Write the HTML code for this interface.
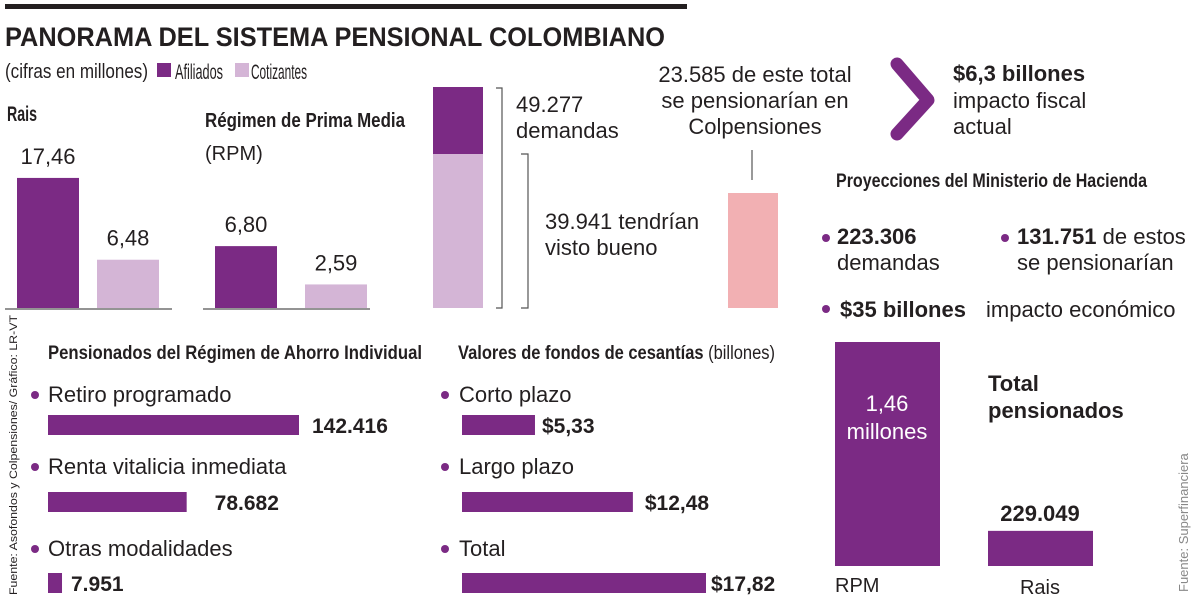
<!DOCTYPE html>
<html><head><meta charset="utf-8"><style>
html,body{margin:0;padding:0;background:#fff;}
svg{display:block;}
text{font-family:"Liberation Sans",sans-serif;fill:#231f20;}
.b{font-weight:bold;}
</style></head><body>
<svg id="s" width="1200" height="603" viewBox="0 0 1200 603">
<rect x="5" y="4" width="682" height="5" fill="#231f20"/>
<text x="5" y="46" class="b" font-size="27" textLength="660" lengthAdjust="spacingAndGlyphs">PANORAMA DEL SISTEMA PENSIONAL COLOMBIANO</text>
<text x="5" y="78" font-size="20" textLength="143" lengthAdjust="spacingAndGlyphs">(cifras en millones)</text>
<rect x="157" y="63" width="14" height="14" fill="#7b2a84"/>
<text x="175" y="79" font-size="21" textLength="48" lengthAdjust="spacingAndGlyphs">Afiliados</text>
<rect x="235" y="63" width="14" height="14" fill="#d4b5d6"/>
<text x="251" y="79" font-size="21" textLength="56" lengthAdjust="spacingAndGlyphs">Cotizantes</text>

<text x="7" y="121" class="b" font-size="21" textLength="30" lengthAdjust="spacingAndGlyphs">Rais</text>
<text x="205" y="127" class="b" font-size="20" textLength="200" lengthAdjust="spacingAndGlyphs">Régimen de Prima Media</text>
<text x="205" y="160" font-size="20">(RPM)</text>
<g id="cols"></g>

<rect x="433" y="87" width="50" height="67" fill="#7b2a84"/>
<rect x="433" y="154" width="50" height="154" fill="#d4b5d6"/>
<path d="M496 88H502V308H496" fill="none" stroke="#555" stroke-width="1.2"/>
<path d="M521 154H528V308H521" fill="none" stroke="#555" stroke-width="1.2"/>
<text x="516" y="112" font-size="22">49.277</text>
<text x="516" y="138" font-size="22">demandas</text>
<text x="545" y="229" font-size="22">39.941 tendrían</text>
<text x="545" y="255" font-size="22">visto bueno</text>

<text x="755" y="82" font-size="22" text-anchor="middle">23.585 de este total</text>
<text x="755" y="108" font-size="22" text-anchor="middle">se pensionarían en</text>
<text x="755" y="134" font-size="22" text-anchor="middle">Colpensiones</text>
<line x1="752" y1="150" x2="752" y2="180" stroke="#555" stroke-width="1.2"/>
<rect x="728" y="193" width="50" height="115" fill="#f2b0b3"/>

<path d="M897 64L928 100L897 134" fill="none" stroke="#7b2a84" stroke-width="13" stroke-linecap="round" stroke-linejoin="round"/>
<text x="953" y="81" class="b" font-size="22">$6,3 billones</text>
<text x="953" y="108" font-size="22">impacto fiscal</text>
<text x="953" y="134" font-size="22">actual</text>

<text x="836" y="187" class="b" font-size="19" textLength="311" lengthAdjust="spacingAndGlyphs">Proyecciones del Ministerio de Hacienda</text>
<circle cx="826" cy="238" r="4" fill="#7b2a84"/>
<text x="837" y="244" class="b" font-size="22">223.306</text>
<text x="837" y="270" font-size="22">demandas</text>
<circle cx="1005" cy="238" r="4" fill="#7b2a84"/>
<text x="1017" y="244" font-size="22"><tspan class="b">131.751</tspan> de estos</text>
<text x="1017" y="270" font-size="22">se pensionarían</text>
<circle cx="826" cy="309" r="4" fill="#7b2a84"/>
<text x="840" y="317" class="b" font-size="22">$35 billones</text>
<text x="986" y="317" font-size="22">impacto económico</text>

<g id="tot"></g>
<text x="988" y="391" class="b" font-size="22">Total</text>
<text x="988" y="418" class="b" font-size="22">pensionados</text>
<text x="887" y="411" font-size="22" text-anchor="middle" style="fill:#fff">1,46</text>
<text x="887" y="439" font-size="22" text-anchor="middle" style="fill:#fff">millones</text>
<text x="835" y="592" font-size="20">RPM</text>
<text x="1040" y="594" font-size="20" text-anchor="middle">Rais</text>
<text transform="translate(1188,592) rotate(-90)" font-size="13" style="fill:#888">Fuente: Superfinanciera</text>
<text transform="translate(17,595) rotate(-90)" font-size="11" textLength="280" lengthAdjust="spacingAndGlyphs">Fuente: Asofondos y Colpensiones/ Gráfico: LR-VT</text>

<text x="48" y="359" class="b" font-size="19" textLength="374" lengthAdjust="spacingAndGlyphs">Pensionados del Régimen de Ahorro Individual</text>
<text x="458" y="359" font-size="19" textLength="317" lengthAdjust="spacingAndGlyphs"><tspan class="b">Valores de fondos de cesantías</tspan> (billones)</text>
<g id="hb"></g>
</svg>
<script>
const NS='http://www.w3.org/2000/svg';
function mk(tag,attrs,parent){const e=document.createElementNS(NS,tag);for(const k in attrs)e.setAttribute(k,attrs[k]);parent.appendChild(e);return e;}
const colGroups=['Rais','RPM'];
const afiliados=[17.46,6.80];
const cotizantes=[6.48,2.59];
const colLabels=[['17,46','6,48'],['6,80','2,59']];
const cols=document.getElementById('cols');
const gx=[17,215], gScale=[7.45,9.1], base=308;
colGroups.forEach((g,i)=>{
  const vals=[afiliados[i],cotizantes[i]];
  const ax=mk('line',{x1:gx[i]-12,x2:gx[i]+155,y1:base+1,y2:base+1,stroke:'#555','stroke-width':1.2},cols);
  
  
  vals.forEach((v,j)=>{
    const h=v*gScale[i], x=gx[i]+j*(i?90:80);
    const r=mk('rect',{x:x,y:base-h,width:62,height:h,fill:j?'#d4b5d6':'#7b2a84'},cols);
    
    
    const t=mk('text',{x:x+31,y:base-h-14,'font-size':22,'text-anchor':'middle'},cols);
    t.textContent=colLabels[i][j];
    
    
  });
});
const totCats=['RPM','Rais'];
const totVals=[1460000,229049];
const totLabels=['','229.049'];
const tot=document.getElementById('tot');
totCats.forEach((c,i)=>{
  const h=Math.max(totVals[i]/1460000*224,17);
  const r=mk('rect',{x:835+i*153,y:566-h,width:105,height:h,fill:'#7b2a84'},tot);
  
  
  if(totLabels[i]){
    const t=mk('text',{x:887+i*153,y:566-h-10,'font-size':22,'text-anchor':'middle','class':'b'},tot);
    t.textContent=totLabels[i];
    
    
  }
});
const raiCats=['Retiro programado','Renta vitalicia inmediata','Otras modalidades'];
const raiVals=[142416,78682,7951];
const raiLabels=['142.416','78.682','7.951'];
const cesCats=['Corto plazo','Largo plazo','Total'];
const cesVals=[5.33,12.48,17.82];
const cesLabels=['$5,33','$12,48','$17,82'];
const hb=document.getElementById('hb');
const catY=[402,474,556], barY=[415,492,573];
function hbars(cats,vals,labels,x0,dotX,scale,lblOff,name){
  cats.forEach((c,i)=>{
    const d=mk('circle',{cx:dotX,cy:catY[i]-7,r:4,fill:'#7b2a84'},hb);
    
    
    const t=mk('text',{x:x0+(name==='ces'?-3:0),y:catY[i],'font-size':22},hb);
    t.textContent=c;
    
    
    const w=Math.max(vals[i]*scale,9);
    const r=mk('rect',{x:x0,y:barY[i],width:w,height:20,fill:'#7b2a84'},hb);
    
    
    const l=mk('text',{x:x0+w+lblOff[i],y:barY[i]+18,'font-size':21,'class':'b'},hb);
    l.textContent=labels[i];
    
    
  });
}
hbars(raiCats,raiVals,raiLabels,48,35,251/142416,[13,28,9],'rai');
hbars(cesCats,cesVals,cesLabels,462,445,244/17.82,[7,12,5],'ces');
</script>
</body></html>
